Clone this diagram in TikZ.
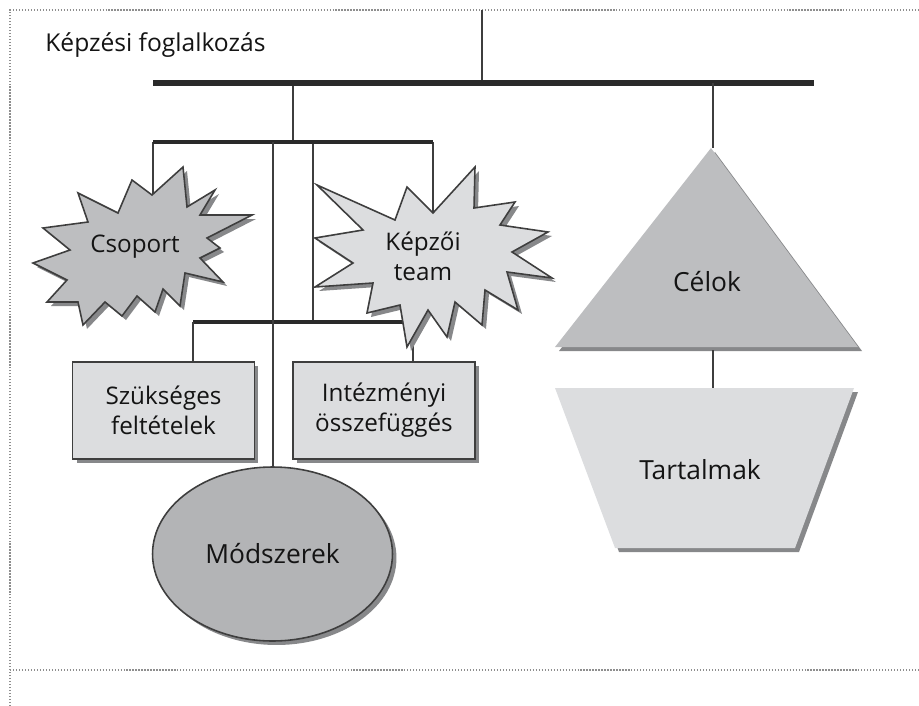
\documentclass[tikz,border=0pt]{standalone}
\usepackage{fontspec}
\setmainfont{Open Sans}
\usetikzlibrary{shapes.geometric,shadows}

\definecolor{lightfill}{HTML}{DCDDDF}
\definecolor{midfill}{HTML}{BDBEC0}
\definecolor{darkfill}{HTML}{B3B4B6}
\definecolor{shadowgray}{HTML}{87888A}
\definecolor{linegray}{HTML}{3E3E3E}
\definecolor{bargray}{HTML}{2A2A2A}
\definecolor{framegray}{HTML}{8E8E8E}

\tikzset{
  mainbar/.style={draw=bargray, line width=3.4pt},
  subbar/.style={draw=bargray, line width=2.8pt},
  stem/.style={draw=linegray, line width=1.1pt},
  frameline/.style={draw=framegray, densely dotted, line width=0.7pt},
  starline/.style={draw=linegray, line width=0.9pt, line join=miter},
  dshadow/.style={drop shadow={shadow xshift=0.08cm, shadow yshift=-0.08cm,
                               fill=shadowgray, opacity=1}},
  txt/.style={font=\fontsize{13.8}{17}\selectfont, align=center,
              inner sep=0pt, text=black!92},
  framebox/.style={rectangle, draw=linegray, line width=0.9pt, fill=lightfill,
                   dshadow, minimum width=3.64cm, minimum height=1.94cm,
                   txt}
}

\begin{document}
\begin{tikzpicture}[x=0.02cm, y=-0.02cm]
\useasboundingbox (0,0) rectangle (919,706);

%% frame
\draw[frameline] (10,706) -- (10,10) -- (919,10);
\draw[frameline] (10,670) -- (919,670);

\node[txt, font=\fontsize{14}{17}\selectfont, anchor=base west]
  (title) at (45,52) {Képzési foglalkozás};

%% tree lines
\coordinate (root) at (482,10);
\coordinate (mainL) at (153,83);
\coordinate (mainR) at (814,83);
\coordinate (hubA) at (293,83);
\coordinate (hubB) at (713,83);
\coordinate (subL) at (153,142);
\coordinate (subR) at (433,142);
\coordinate (subA) at (273,142);
\coordinate (subB) at (313,142);
\coordinate (lowL) at (193,322);
\coordinate (lowR) at (413,322);

\draw[stem] (root) -- (root |- mainL);
\draw[stem] (hubA) -- (hubA |- subL);
\draw[stem] (subB) -- (subB |- lowL);
\draw[stem] (subL) -- (153,200);
\draw[stem] (subR) -- (433,215);

\draw[mainbar] (mainL) -- (mainR);
\draw[subbar] (subL) -- (subR);
\draw[subbar] (lowL) -- (lowR);

%% boxes and ellipse
\node[framebox] (szukseges) at (163.5,410.5) {Szükséges\\feltételek};
\node[framebox] (intezmenyi) at (384,410.5) {Intézményi\\összefüggés};
\draw[stem] (lowL) -- (lowL |- szukseges.north);
\draw[stem] (lowR) -- (lowR |- intezmenyi.north);

\node[ellipse, draw=linegray, line width=0.9pt, fill=darkfill, dshadow,
      minimum width=4.8cm, minimum height=3.48cm, inner sep=0pt]
      (modszerek) at (272.5,554) {};
\node[txt, font=\fontsize{15}{18}\selectfont] at (modszerek) {Módszerek};
\draw[stem] (subA) -- (subA |- modszerek.north);

%% stars
\draw[starline, fill=midfill, dshadow]
  (78,193) -- (88,222) -- (43,228) -- (70,250) -- (33,263) -- (67,280)
  -- (47,302) -- (78,302) -- (83,325) -- (105,302) -- (122,316)
  -- (137,296) -- (155,312) -- (163,289) -- (180,306) -- (185,273)
  -- (223,282) -- (200,258) -- (220,248) -- (207,238) -- (252,215)
  -- (200,215) -- (215,190) -- (187,207) -- (183,167) -- (152,195)
  -- (132,180) -- (118,213) -- cycle;
\node[txt] (csoport) at (135,247) {Csoport};

\draw[starline, fill=lightfill, dshadow]
  (317,185) -- (363,230) -- (315,238) -- (353,263) -- (315,287)
  -- (373,283) -- (367,313) -- (400,305) -- (407,347) -- (428,310)
  -- (447,337) -- (455,302) -- (482,325) -- (485,290) -- (518,310)
  -- (507,272) -- (552,278) -- (512,252) -- (548,232) -- (500,225)
  -- (515,202) -- (474,208) -- (475,167) -- (433,213) -- (407,187)
  -- (395,220) -- cycle;
\node[txt] (kepzoi) at (423,256) {Képzői\\team};

%% right branch
\coordinate (apex) at (711,148);
\coordinate (baseL) at (555,347);
\coordinate (baseR) at (858,347);
\draw[stem] (hubB) -- (hubB |- apex);
\fill[midfill, dshadow] (apex) -- (baseR) -- (baseL) -- cycle;
\node[txt, font=\fontsize{15}{18}\selectfont] (celok) at (707,282) {Célok};

\coordinate (trapTL) at (555,388);
\coordinate (trapTR) at (854,388);
\coordinate (trapBR) at (795,548);
\coordinate (trapBL) at (615,548);
\draw[stem] (713,350) -- (713,388);
\fill[lightfill, dshadow] (trapTL) -- (trapTR) -- (trapBR) -- (trapBL) -- cycle;
\node[txt, font=\fontsize{15}{18}\selectfont] (tartalmak) at (700,470) {Tartalmak};

\end{tikzpicture}
\end{document}
